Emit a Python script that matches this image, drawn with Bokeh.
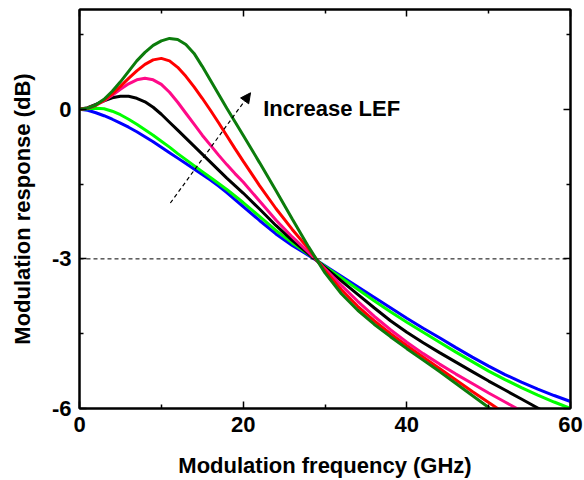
from bokeh.plotting import figure
from bokeh.models import (Range1d, FixedTicker, LinearAxis, Label, Arrow,
                          NormalHead, Span, ColumnDataSource)
from bokeh.embed import file_html
from bokeh.resources import INLINE

nan = float("nan")

# ---------------- data ----------------
freq_ghz = [0, 1, 2, 3, 4, 5, 6, 7, 8, 9, 10, 11, 12, 13, 14, 15, 16, 17, 18, 19, 20,
            22, 24, 26, 28, 30, 32, 34, 36, 38, 40, 42, 44, 46, 48, 50, 52, 54, 56, 58, 60]

resp_blue = [0, -0.02, -0.07, -0.13, -0.2, -0.28, -0.36, -0.45, -0.55, -0.65, -0.76,
             -0.87, -0.98, -1.09, -1.2, -1.31, -1.42, -1.54, -1.67, -1.81, -1.95,
             -2.23, -2.5, -2.73, -2.93, -3.14, -3.35, -3.56, -3.77, -3.98, -4.19,
             -4.39, -4.58, -4.78, -4.97, -5.15, -5.32, -5.47, -5.61, -5.74, -5.86]

resp_lime = [0, 0.01, 0.02, 0.01, -0.04, -0.11, -0.2, -0.3, -0.41, -0.52, -0.64,
             -0.76, -0.89, -1.01, -1.13, -1.25, -1.37, -1.49, -1.61, -1.74, -1.87,
             -2.15, -2.43, -2.68, -2.91, -3.15, -3.38, -3.61, -3.84, -4.06, -4.27,
             -4.47, -4.67, -4.87, -5.06, -5.25, -5.42, -5.58, -5.73, -5.87, -6.0]

resp_black = [0, 0.03, 0.1, 0.17, 0.23, 0.26, 0.26, 0.22, 0.15, 0.04, -0.1,
              -0.26, -0.42, -0.58, -0.74, -0.9, -1.06, -1.22, -1.38, -1.53, -1.68,
              -2.0, -2.33, -2.63, -2.9, -3.17, -3.44, -3.71, -3.98, -4.24, -4.47,
              -4.68, -4.88, -5.07, -5.26, -5.45, -5.63, -5.81, -5.99, -6.17, nan]

resp_pink = [0, 0.02, 0.08, 0.17, 0.28, 0.4, 0.51, 0.59, 0.62, 0.59, 0.5,
             0.34, 0.14, -0.08, -0.3, -0.52, -0.72, -0.92, -1.11, -1.29, -1.46,
             -1.84, -2.22, -2.56, -2.87, -3.2, -3.53, -3.85, -4.15, -4.42, -4.67,
             -4.9, -5.11, -5.31, -5.5, -5.69, -5.87, -6.05, -6.23, nan, nan]

resp_red = [0, 0.02, 0.08, 0.18, 0.31, 0.46, 0.62, 0.77, 0.9, 0.99, 1.02,
            0.97, 0.84, 0.66, 0.45, 0.22, -0.02, -0.27, -0.53, -0.79, -1.04,
            -1.53, -1.99, -2.41, -2.8, -3.24, -3.62, -3.95, -4.24, -4.5, -4.74,
            -4.97, -5.2, -5.43, -5.66, -5.88, -6.1, nan, nan, nan, nan]

resp_green = [0, 0.02, 0.09, 0.2, 0.36, 0.55, 0.76, 0.97, 1.14, 1.28, 1.37,
              1.42, 1.4, 1.3, 1.12, 0.86, 0.58, 0.3, 0.02, -0.25, -0.52,
              -1.07, -1.63, -2.2, -2.76, -3.28, -3.7, -4.03, -4.31, -4.56, -4.8,
              -5.03, -5.26, -5.5, -5.74, -5.98, -6.22, nan, nan, nan, nan]

x_major_ticks = [0, 20, 40, 60]
x_minor_ticks = [10, 30, 50]
y_major_ticks = [-6, -3, 0]
y_minor_ticks = [-4.5, -1.5, 1.5]
y_tick_labels = {-6: "-6", -3: "-3", 0: "0"}

threshold_db = -3
arrow_start = (11.1, -1.88)
arrow_end = (20.9, 0.33)
note_pos = (22.45, 0.02)
note_text = "Increase LEF"

# ---------------- figure ----------------
FONT = "Liberation Sans"
FS = "22px"

p = figure(width=584, height=480, x_range=Range1d(0, 60), y_range=Range1d(-6, 2),
           output_backend="svg", toolbar_location=None,
           min_border_left=79, min_border_right=14, min_border_top=9,
           min_border_bottom=72, background_fill_color="white",
           border_fill_color="white")
p.outline_line_color = "black"
p.outline_line_width = 2
p.xgrid.visible = False
p.ygrid.visible = False

src = ColumnDataSource(dict(f=freq_ghz, blue=resp_blue, lime=resp_lime,
                            black=resp_black, pink=resp_pink, red=resp_red,
                            green=resp_green))

series = [("blue", "#0000ff"), ("lime", "#00ff00"), ("black", "#000000"),
          ("pink", "#ff0a88"), ("red", "#ff0000"), ("green", "#0c7c0c")]
for key, col in series:
    p.line("f", key, source=src, line_color=col, line_width=3)

p.add_layout(Span(location=threshold_db, dimension="width", line_color="black",
                  line_width=1, line_dash="4 3"))

p.add_layout(Arrow(x_start=arrow_start[0], y_start=arrow_start[1],
                   x_end=arrow_end[0], y_end=arrow_end[1],
                   line_color="black", line_width=1.2, line_dash="4 3",
                   end=NormalHead(size=10, fill_color="black", line_color="black")))

p.add_layout(Label(x=note_pos[0], y=note_pos[1], text=note_text,
                   text_font=FONT, text_font_style="bold", text_font_size=FS,
                   text_baseline="middle", text_color="black"))


def style_axis(ax, show_labels):
    ax.axis_line_color = "black"
    ax.axis_line_width = 2
    ax.major_tick_in = 7
    ax.major_tick_out = 0
    ax.minor_tick_in = 4
    ax.minor_tick_out = 0
    ax.major_tick_line_color = "black"
    ax.major_tick_line_width = 1.5
    ax.minor_tick_line_color = "black"
    ax.minor_tick_line_width = 1.5
    if show_labels:
        ax.major_label_text_font = FONT
        ax.major_label_text_font_style = "bold"
        ax.major_label_text_font_size = FS
        ax.major_label_text_color = "black"
        ax.axis_label_text_font = FONT
        ax.axis_label_text_font_style = "bold"
        ax.axis_label_text_font_size = FS
        ax.axis_label_text_color = "black"
    else:
        ax.major_label_standoff = 0


xax = p.xaxis[0]
xax.ticker = FixedTicker(ticks=x_major_ticks, minor_ticks=x_minor_ticks)
xax.axis_label = "Modulation frequency (GHz)"
style_axis(xax, True)
xax.major_label_standoff = 8
xax.axis_label_standoff = 18

yax = p.yaxis[0]
yax.ticker = FixedTicker(ticks=y_major_ticks, minor_ticks=y_minor_ticks)
yax.axis_label = "Modulation response (dB)"
yax.major_label_overrides = y_tick_labels
style_axis(yax, True)
yax.major_label_standoff = 8
yax.axis_label_standoff = 14

top = LinearAxis(ticker=FixedTicker(ticks=x_major_ticks, minor_ticks=x_minor_ticks))
style_axis(top, False)
top.major_label_overrides = {t: "" for t in x_major_ticks}
p.add_layout(top, "above")

right = LinearAxis(ticker=FixedTicker(ticks=y_major_ticks, minor_ticks=y_minor_ticks))
style_axis(right, False)
right.major_label_overrides = {t: "" for t in y_major_ticks}
p.add_layout(right, "right")

open("out.html", "w").write(file_html(p, INLINE))
